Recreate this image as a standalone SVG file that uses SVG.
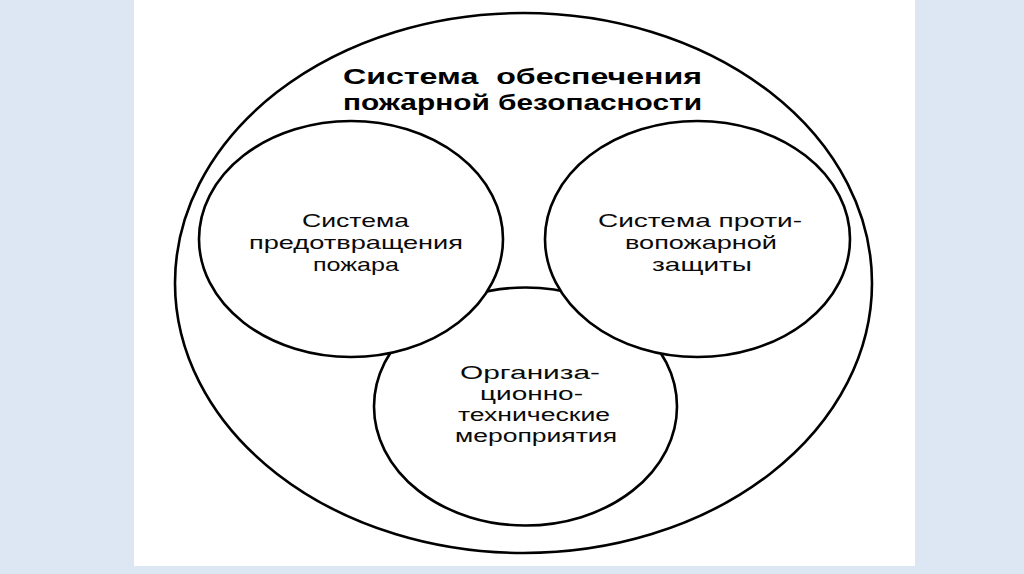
<svg xmlns="http://www.w3.org/2000/svg" width="1024" height="574" viewBox="0 0 1024 574">
  <style>
    .ring { fill: #ffffff; stroke: #000000; stroke-width: 2.6; }
    .title { font-family: "Liberation Sans", Arial, sans-serif; font-weight: bold; font-size: 22px; fill: #000000; white-space: pre; }
    .lbl { font-family: "Liberation Sans", Arial, sans-serif; font-size: 19px; fill: #0a0a0a; }
    .lbl2 { font-family: "Liberation Sans", Arial, sans-serif; font-size: 18px; fill: #0a0a0a; }
  </style>
  <rect x="0" y="0" width="1024" height="574" fill="#dce7f3"/>
  <rect x="134" y="0" width="781" height="566" fill="#ffffff"/>

  <g id="outer">
    <ellipse class="ring" cx="523.5" cy="283" rx="348.5" ry="270"/>
    <text class="title" x="343" y="84" textLength="359" lengthAdjust="spacingAndGlyphs" xml:space="preserve">Система  обеспечения</text>
    <text class="title" x="343" y="110" textLength="359" lengthAdjust="spacingAndGlyphs">пожарной безопасности</text>
  </g>

  <g id="connectors"></g>

  <g id="bottom">
    <ellipse class="ring" cx="525.5" cy="406.5" rx="151.5" ry="119"/>
    <text class="lbl2" x="460" y="379" textLength="140" lengthAdjust="spacingAndGlyphs">Организа-</text>
    <text class="lbl2" x="480" y="400" textLength="103" lengthAdjust="spacingAndGlyphs">ционно-</text>
    <text class="lbl2" x="458" y="421" textLength="152" lengthAdjust="spacingAndGlyphs">технические</text>
    <text class="lbl2" x="455" y="442" textLength="162" lengthAdjust="spacingAndGlyphs">мероприятия</text>
  </g>

  <g id="left">
    <ellipse class="ring" cx="351" cy="239" rx="152" ry="118"/>
    <text class="lbl" x="302" y="227" textLength="107" lengthAdjust="spacingAndGlyphs">Система</text>
    <text class="lbl" x="249" y="249" textLength="214" lengthAdjust="spacingAndGlyphs">предотвращения</text>
    <text class="lbl" x="313" y="271" textLength="86" lengthAdjust="spacingAndGlyphs">пожара</text>
  </g>

  <g id="right">
    <ellipse class="ring" cx="697.5" cy="239" rx="152.5" ry="118"/>
    <text class="lbl" x="598" y="227" textLength="204" lengthAdjust="spacingAndGlyphs">Система проти-</text>
    <text class="lbl" x="625" y="249" textLength="152" lengthAdjust="spacingAndGlyphs">вопожарной</text>
    <text class="lbl" x="652" y="271" textLength="100" lengthAdjust="spacingAndGlyphs">защиты</text>
  </g>
</svg>
